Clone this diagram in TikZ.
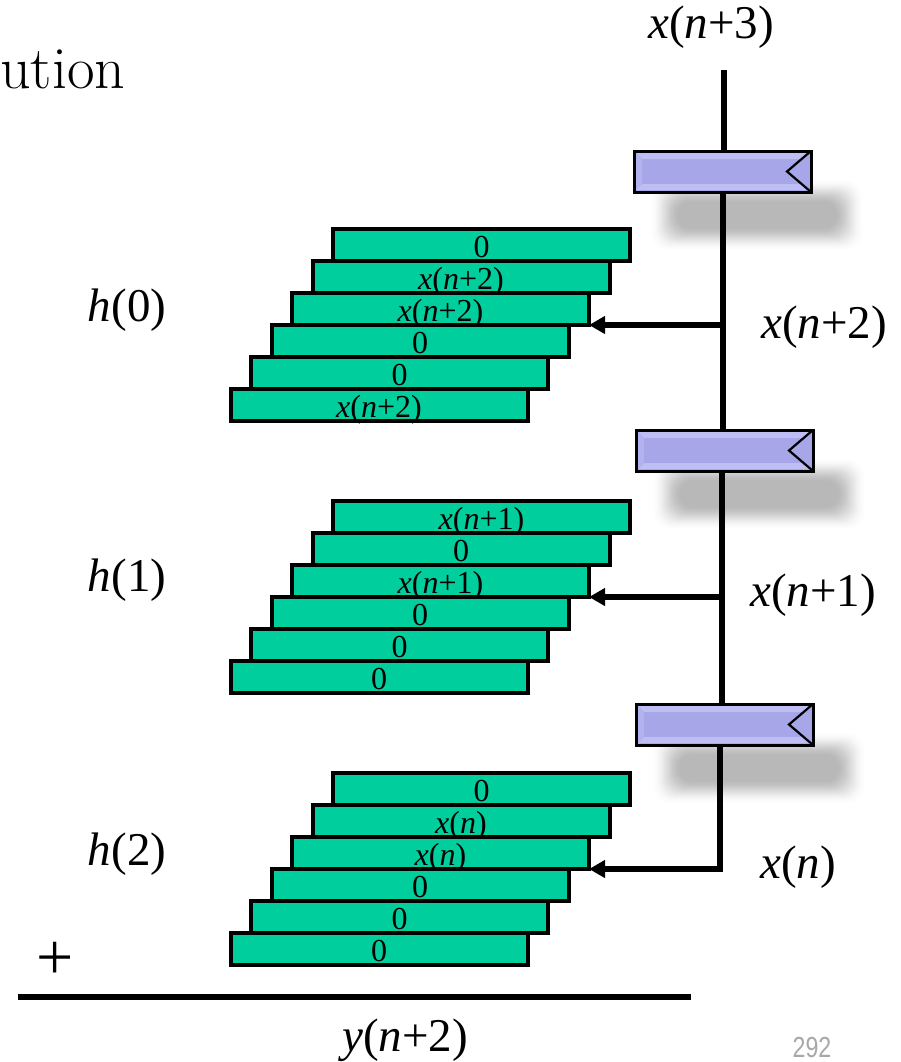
\documentclass[tikz,border=0pt]{standalone}
\usepackage{fontspec}
\usepackage{graphicx}
\setmainfont{Liberation Serif}
\setsansfont{Liberation Sans}
\newfontfamily\titlefont{Latin Modern Roman}
\usetikzlibrary{arrows.meta,calc}
\definecolor{barfill}{HTML}{00CE9C}
\definecolor{regfill}{HTML}{A6A6E8}
\definecolor{reglight}{HTML}{BEBEF4}
\definecolor{regside}{HTML}{B2B2EE}
\definecolor{pagegray}{HTML}{A8A8A8}
\newcommand\xp[1]{\textit{x}(\textit{n}+#1)}
\newcommand\xn{\textit{x}(\textit{n})}
\tikzset{
  x=1pt,y=-1pt,
  barbox/.style={draw=black,line width=4pt,fill=barfill,minimum width=297pt,minimum height=32pt,inner sep=0pt,outer sep=0pt},
  barlabel/.style={font=\fontsize{32}{32}\selectfont,inner sep=0pt,text=black,text height=22pt,text depth=0pt},
  regbox/.style={draw=black,line width=3pt,fill=regfill,minimum width=177pt,minimum height=41pt,inner sep=0pt,outer sep=0pt},
  sigline/.style={line width=6pt,draw=black},
  tapline/.style={line width=5.5pt,draw=black,-{Triangle[length=16pt,width=17pt]},line join=miter},
  biglabel/.style={font=\fontsize{47}{47}\selectfont,inner sep=0pt,text=black},
}
% name prefix, top y, six texts
\newcommand\stackbars[8]{%
  \node[barbox,label={[barlabel,yshift=-1pt]center:#3}] (#11) at (481.5,#2+16) {};
  \node[barbox,label={[barlabel,yshift=-1pt]center:#4}] (#12) at (461,#2+48) {};
  \node[barbox,label={[barlabel,yshift=-1pt]center:#5}] (#13) at (440.5,#2+80) {};
  \node[barbox,label={[barlabel,yshift=-1pt]center:#6}] (#14) at (420,#2+112) {};
  \node[barbox,label={[barlabel,yshift=-1pt]center:#7}] (#15) at (399.5,#2+144) {};
  \node[barbox,label={[barlabel,yshift=-1pt]center:#8}] (#16) at (379,#2+176) {};
}
% soft shadow: nested solid greys from white outward to the core
\newcommand\regshadow[2]{%
  \foreach \k in {0,...,35}{
    \pgfmathsetmacro\tt{\k/35}
    \pgfmathsetmacro\ss{\tt*\tt*(3-2*\tt)}
    \pgfmathsetmacro\gg{28*\ss}
    \pgfmathsetmacro\hw{107-30*\tt}
    \pgfmathsetmacro\hh{36-25*\tt}
    \pgfmathsetmacro\rr{min(\hh-0.5,16)}
    \fill[black!\gg!white,rounded corners=\rr pt] (#1-\hw,#2-\hh) rectangle (#1+\hw,#2+\hh);
  }%
}
% register decoration
\newcommand\regdeco[1]{%
  \fill[reglight] ($(#1.north west)+(2,2)$) -- ($(#1.north east)+(-2,2)$) -- ($(#1.north east)+(-8,8)$) -- ($(#1.north west)+(8,8)$) -- cycle;
  \fill[reglight] ($(#1.south west)+(2,-2)$) -- ($(#1.south east)+(-2,-2)$) -- ($(#1.south east)+(-8,-8)$) -- ($(#1.south west)+(8,-8)$) -- cycle;
  \fill[regside] ($(#1.north west)+(2,2)$) -- ($(#1.north west)+(8,8)$) -- ($(#1.south west)+(8,-8)$) -- ($(#1.south west)+(2,-2)$) -- cycle;
  \draw[black,line width=2.2pt] (#1.north east) -- ($(#1.east)+(-24,0)$) -- (#1.south east);
}
\begin{document}
\begin{tikzpicture}
\useasboundingbox (0,0) rectangle (900,1062);
\fill[white] (0,0) rectangle (900,1062);

\regshadow{757}{215}
\regshadow{759}{494}
\regshadow{759}{768}

\stackbars{a}{229}{0}{\xp{2}}{\xp{2}}{0}{0}{\xp{2}}
\stackbars{b}{501}{\xp{1}}{0}{\xp{1}}{0}{0}{0}
\stackbars{c}{773}{0}{\xn}{\xn}{0}{0}{0}

\coordinate (top) at (724,70);
\coordinate (ta) at (723,325);
\coordinate (tb) at (722,597);
\coordinate (tc) at (720,869);

\node[regbox] (r1) at (722.5,171.5) {};
\node[regbox] (r2) at (724.5,450.5) {};
\node[regbox] (r3) at (724.5,724.5) {};

\draw[sigline] (top) -- (top |- r1.north);
\draw[sigline] (ta |- r1.south) -- (ta |- r2.north);
\draw[sigline] (tb |- r2.south) -- (tb |- r3.north);
\draw[sigline] (tc |- r3.south) -- ($(tc)+(0,2.75)$);

\draw[tapline] (ta) -- (a3.south east);
\draw[tapline] (tb) -- (b3.south east);
\draw[tapline] (tc) -- (c3.south east);

\regdeco{r1}
\regdeco{r2}
\regdeco{r3}

\node[biglabel] (lx3) at (711,27) {\xp{3}};
\node[biglabel] (lx2) at (824,327) {\xp{2}};
\node[biglabel] (lx1) at (813,595) {\xp{1}};
\node[biglabel] (lx0) at (798,867) {\xn};
\node[biglabel] (lh0) at (127,310) {\textit{h}(0)};
\node[biglabel] (lh1) at (127,580) {\textit{h}(1)};
\node[biglabel] (lh2) at (127,854) {\textit{h}(2)};
\node[biglabel] (ly) at (405,1040) {\textit{y}(\textit{n}+2)};
\node[inner sep=0pt,font=\fontsize{66}{66}\selectfont] (plus) at (55,961) {+};
\node[inner sep=0pt,anchor=base west,font=\titlefont\fontsize{60}{60}\selectfont] (title) at (0,89) {ution};
\node[inner sep=0pt,text=pagegray,font=\sffamily\fontsize{29}{29}\selectfont] (page) at (812,1048) {\scalebox{0.8}[1]{292}};

\coordinate (ruleL) at (18,997);
\coordinate (ruleR) at (691,997);
\draw[line width=6pt,black] (ruleL) -- (ruleR);
\end{tikzpicture}
\end{document}
